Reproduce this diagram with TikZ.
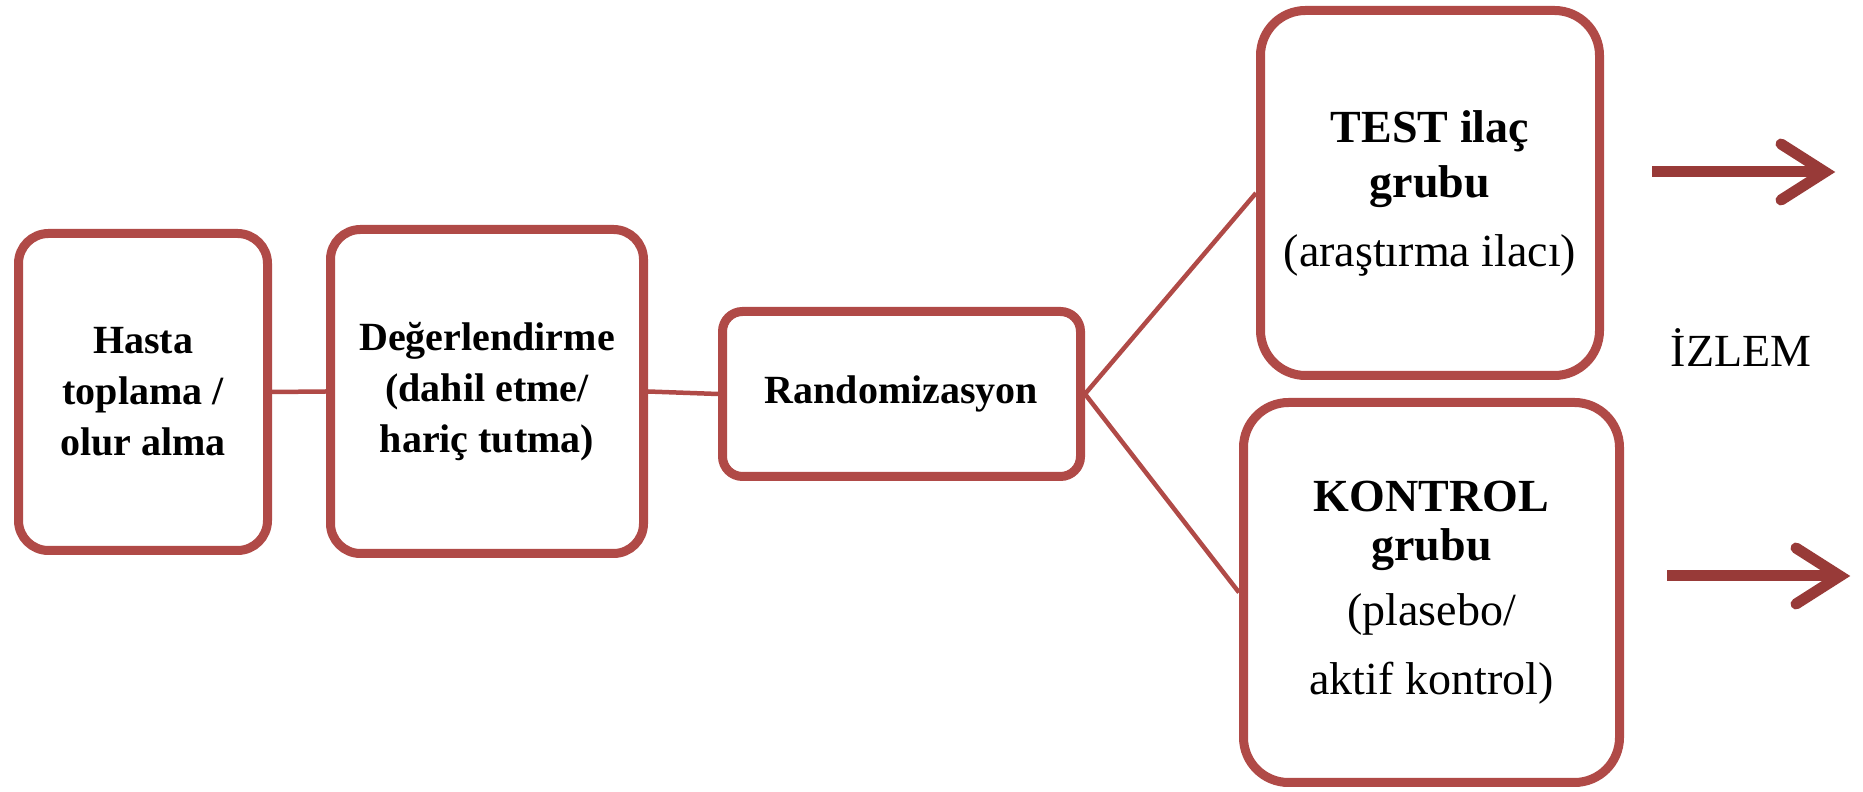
\documentclass[tikz,border=0pt]{standalone}
\usepackage{fontspec}
\setmainfont{Liberation Serif}
\usetikzlibrary{calc}
\definecolor{framered}{HTML}{B04A47}
\definecolor{arrowred}{HTML}{983A38}
\begin{document}
\begin{tikzpicture}[x=1pt,y=1pt,
  box/.style={draw=framered, line width=9pt, rounded corners=#1, fill=white,
    align=center, inner sep=0pt},
  box/.default=30pt,
  link/.style={draw=framered, line width=4.5pt},
  shaft/.style={draw=arrowred, line width=11pt},
  barb/.style={draw=arrowred, line width=11pt, line cap=round, miter limit=10},
  smalltxt/.style={font=\fontsize{40}{51}\selectfont\bfseries},
  bigtxt/.style={font=\fontsize{46}{55}\selectfont}]
\useasboundingbox (0,0) rectangle (1863,792);

% process boxes
\node[box, smalltxt, minimum width=249, minimum height=317] (h) at (143,400)
  {Hasta\\ toplama /\\ olur alma};
\node[box, smalltxt, minimum width=313, minimum height=324] (d) at (487,400.5)
  {De\u{g}erlendirme\\ (dahil etme/\\ hari\c{c} tutma)};
\node[box=20pt, smalltxt, minimum width=358, minimum height=165] (r) at (901.5,398)
  {Randomizasyon};
\node[box=45pt, bigtxt, minimum width=339, minimum height=365] (t) at (1430,599)
  {\textbf{TEST ila\c{c}}\\ \textbf{grubu}\\[14pt] (ara\c{s}t\i rma ilac\i)};
\node[box=45pt, bigtxt, minimum width=376, minimum height=380] (k) at (1431.5,199.5)
  {\textbf{KONTROL}\\[-6pt] \textbf{grubu}\\[10pt] (plasebo/\\[14pt] aktif kontrol)};

% connectors
\draw[link] (h.east) -- (d.west);
\draw[link] (d.east) -- (r.west);
\draw[link] (r.east) -- (t.west);
\draw[link] (r.east) -- (k.west);

% follow-up label and arrows
\node[bigtxt] (iz) at (1741,444) {İZLEM};

\coordinate (a1s) at (1652,620);
\coordinate (a1e) at (1825,620);
\coordinate (a2s) at (1667,216);
\coordinate (a2e) at (1840,216);
\foreach \s/\e in {a1s/a1e, a2s/a2e} {
  \draw[shaft] (\s) -- ($(\e)+(-6,0)$);
  \draw[barb] ($(\e)+(-44,28)$) -- (\e) -- ($(\e)+(-44,-28)$);
}
\end{tikzpicture}
\end{document}
